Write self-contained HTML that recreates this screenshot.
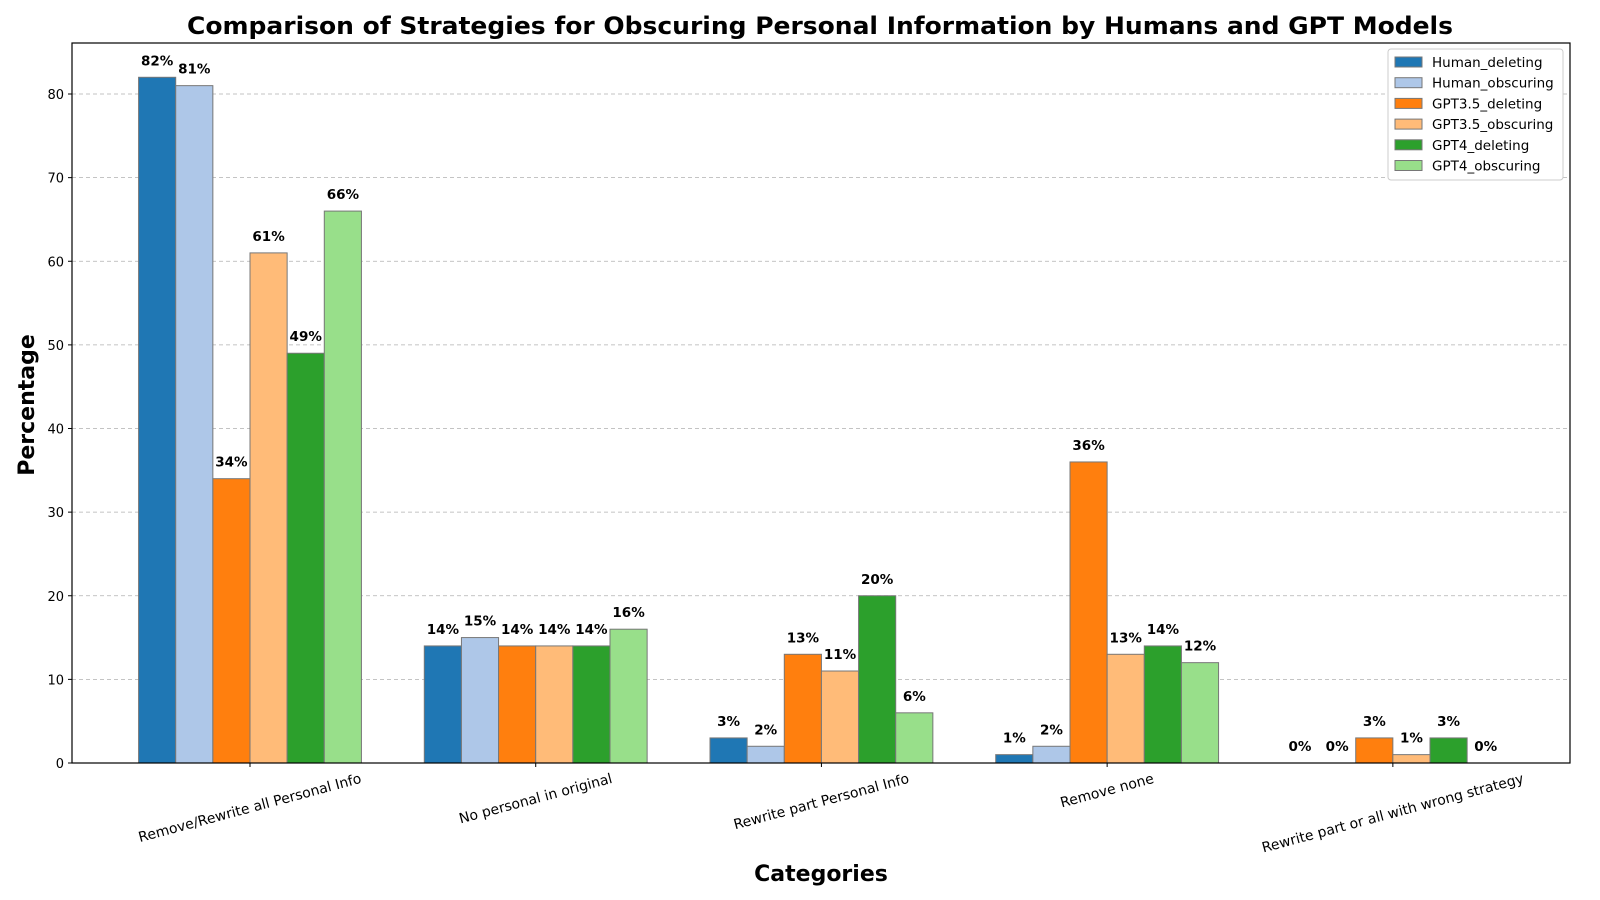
<!DOCTYPE html>
<html><head><meta charset="utf-8"><style>
html,body{margin:0;padding:0;background:#fff;}
svg{display:block;font-family:"DejaVu Sans","Liberation Sans",sans-serif;}
</style></head><body>
<svg id="chart" width="1600" height="900" viewBox="0 0 1600 900">
<text x="820" y="34" text-anchor="middle" font-size="24" font-weight="bold" textLength="1266" lengthAdjust="spacingAndGlyphs">Comparison of Strategies for Obscuring Personal Information by Humans and GPT Models</text>
<g id="grid"></g><g id="bars"></g><g id="vals"></g><g id="axes"></g>
<text x="821" y="881" text-anchor="middle" font-size="22" font-weight="bold">Categories</text>
<text transform="translate(34,405) rotate(-90)" text-anchor="middle" font-size="22" font-weight="bold">Percentage</text>
<g id="legend"></g>
</svg>
<script>
const categories=["Remove/Rewrite all Personal Info","No personal in original","Rewrite part Personal Info","Remove none","Rewrite part or all with wrong strategy"];
const seriesNames=["Human_deleting","Human_obscuring","GPT3.5_deleting","GPT3.5_obscuring","GPT4_deleting","GPT4_obscuring"];
const colors=["#1f77b4","#aec7e8","#ff7f0e","#ffbb78","#2ca02c","#98df8a"];
const humanDeleting=[82,14,3,1,0];
const humanObscuring=[81,15,2,2,0];
const gpt35Deleting=[34,14,13,36,3];
const gpt35Obscuring=[61,14,11,13,1];
const gpt4Deleting=[49,14,20,14,3];
const gpt4Obscuring=[66,16,6,12,0];
const yTicks=[0,10,20,30,40,50,60,70,80];
const series=[humanDeleting,humanObscuring,gpt35Deleting,gpt35Obscuring,gpt4Deleting,gpt4Obscuring];

const NS="http://www.w3.org/2000/svg";
const L=72,R=1570,T=43,B=763,yMax=86.1,xMin=-0.623,xMax=4.62,bw=0.13;
const xs=v=>L+(v-xMin)/(xMax-xMin)*(R-L);
const ys=v=>B-v/yMax*(B-T);
function mk(tag,attrs,parent,text){const e=document.createElementNS(NS,tag);for(const k in attrs)e.setAttribute(k,attrs[k]);if(text!==undefined)e.textContent=text;parent.appendChild(e);return e;}
const grid=document.getElementById('grid'),bars=document.getElementById('bars'),vals=document.getElementById('vals'),axes=document.getElementById('axes'),leg=document.getElementById('legend');
yTicks.forEach(t=>{
  if(t>0){const g=mk('line',{x1:L,x2:R,y1:ys(t),y2:ys(t),stroke:'#b0b0b0','stroke-dasharray':'4,3','stroke-width':0.8},grid);
  
  }
  const tk=mk('line',{x1:L-4,x2:L,y1:ys(t),y2:ys(t),stroke:'#000'},axes);
  
  
  const tl=mk('text',{x:L-8,y:ys(t)+5,'text-anchor':'end','font-size':13},axes,String(t));
  
  
});
series.forEach((arr,s)=>{
  arr.forEach((v,i)=>{
    const x0=xs(i+(s-3)*bw);const x1=xs(i+(s-2)*bw);
    const r=mk('rect',{x:x0,y:ys(v),width:x1-x0,height:ys(0)-ys(v),fill:colors[s],stroke:'#777','stroke-width':1},bars);
    
    
    const t=mk('text',{x:(x0+x1)/2,y:ys(v)-12,'text-anchor':'middle','font-size':13.5,'font-weight':'bold'},vals,v+'%');
    
    
  });
});
mk('rect',{x:L,y:T,width:R-L,height:B-T,fill:'none',stroke:'#000','stroke-width':1.2},axes);
categories.forEach((c,i)=>{
  const cx=xs(i);
  const tk=mk('line',{x1:cx,x2:cx,y1:B,y2:B+4,stroke:'#000'},axes);
  
  
  const t=mk('text',{x:0,y:0,'text-anchor':'middle','dominant-baseline':'central','font-size':14},axes,c);
  
  
  const w=t.getComputedTextLength();
  const cy=B+8+(w*0.2588+16*0.9659)/2;
  t.setAttribute('transform','translate('+cx+','+cy+') rotate(-15)');
});
mk('rect',{x:1388,y:49,width:175,height:131,fill:'#fff',stroke:'#ccc',rx:3},leg);
seriesNames.forEach((n,s)=>{
  const y=57+s*20.7;
  const r=mk('rect',{x:1395,y:y,width:27,height:10,fill:colors[s],stroke:'#777'},leg);
  
  
  const t=mk('text',{x:1432,y:y+10,'font-size':13.5},leg,n);
  
  
});
</script>
</body></html>
